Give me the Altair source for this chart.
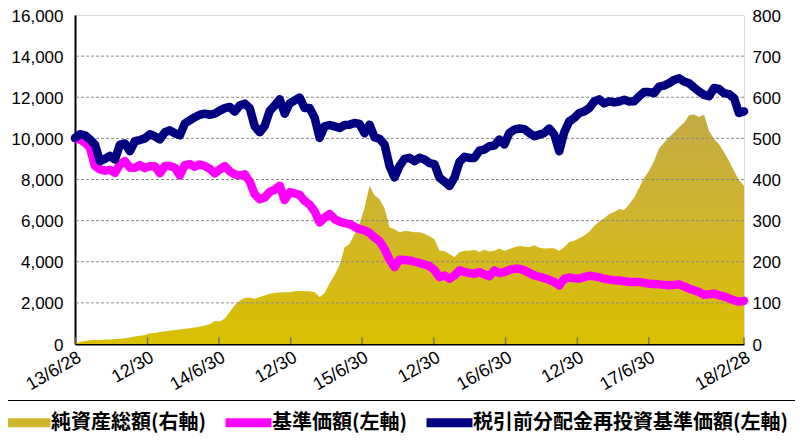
import altair as alt
import pandas as pd

# ---- data ----
N_POINTS = 135
START, END = "2013-06-28", "2018-02-28"

# 税引前分配金再投資基準価額 (left axis, yen)
nav_reinvested = [
    10022, 10200, 10150, 9942, 9700, 8895, 9000, 9150, 8975, 9700,
    9750, 9378, 9861, 9920, 10000, 10200, 10100, 9950, 10300, 10390,
    10250, 10150, 10720, 10880, 11030, 11150, 11200, 11150, 11200, 11350,
    11473, 11530, 11300, 11600, 11690, 11473, 10586, 10300, 10600, 11340,
    11600, 11900, 11200, 11700, 11850, 11988, 11473, 11473, 11000, 10022,
    10586, 10650, 10580, 10506, 10650, 10667, 10747, 10700, 10250, 10667,
    10050, 9980, 9700, 8653, 8100, 8653, 9000, 9055, 8895, 9055,
    8975, 8800, 8750, 8089, 7900, 7686, 8089, 8850, 9100, 9050,
    9050, 9400, 9458, 9620, 9650, 9942, 9700, 10264, 10425, 10480,
    10450, 10264, 10100, 10183, 10264, 10480, 10183, 9378, 10300, 10828,
    10990, 11231, 11312, 11473, 11795, 11900, 11700, 11800, 11750, 11795,
    11875, 11795, 11800, 12050, 12250, 12250, 12200, 12520, 12569, 12682,
    12843, 12923, 12762, 12682, 12472, 12278, 12117, 12050, 12450, 12400,
    12198, 12150, 11956, 11231, 11312,
]

# 基準価額 (left axis, yen)
nav = [
    10000, 9942, 9800, 9539, 8653, 8492, 8430, 8470, 8331, 8733,
    8895, 8572, 8572, 8700, 8550, 8650, 8650, 8300, 8653, 8653,
    8572, 8200, 8700, 8750, 8620, 8733, 8653, 8520, 8300, 8492,
    8653, 8400, 8250, 8200, 8250, 7900, 7283, 7041, 7122, 7400,
    7500, 7700, 7000, 7380, 7320, 7250, 6961, 6780, 6450, 5913,
    6155, 6316, 6074, 5950, 5880, 5830, 5700, 5591, 5530, 5400,
    5180, 5000, 4625, 4100, 3738, 4100, 4080, 4061, 4000, 3940,
    3870, 3790, 3600, 3254, 3335, 3174, 3335, 3577, 3510, 3450,
    3420, 3496, 3380, 3300, 3577, 3450, 3500, 3600, 3657, 3657,
    3580, 3460, 3335, 3270, 3200, 3120, 3013, 2852, 3174, 3230,
    3200, 3180, 3254, 3320, 3290, 3240, 3174, 3130, 3100, 3093,
    3050, 3013, 3013, 3013, 2970, 2932, 2915, 2900, 2875, 2852,
    2875, 2900, 2800, 2691, 2610, 2530, 2400, 2420, 2450, 2369,
    2310, 2220, 2120, 2060, 2100,
]

# 純資産総額 (right axis)
net_assets = [
    0, 5, 7, 9, 10, 10, 11, 11, 12, 13,
    14, 16, 18, 20, 22, 26, 27, 29, 31, 32,
    34, 35, 37, 38, 40, 42, 45, 48, 56, 55,
    62, 78, 94, 106, 112, 113, 110, 114, 118, 122,
    124, 125, 126, 126, 128, 129, 128, 128, 126, 114,
    124, 148, 168, 192, 235, 243, 268, 292, 332, 385,
    362, 352, 330, 284, 279, 272, 275, 274, 272, 272,
    268, 262, 255, 227, 226, 219, 211, 223, 227, 227,
    229, 224, 229, 225, 227, 232, 227, 231, 235, 238,
    237, 236, 240, 234, 232, 233, 233, 226, 235, 248,
    251, 257, 264, 273, 287, 298, 306, 316, 321, 328,
    326, 340, 356, 380, 404, 421, 445, 476, 490, 503,
    515, 527, 538, 556, 558, 552, 558, 518, 499, 486,
    467, 445, 421, 398, 385,
]

tick_dates = ["2013-06-28", "2013-12-30", "2014-06-30", "2014-12-30", "2015-06-30",
              "2015-12-30", "2016-06-30", "2016-12-30", "2017-06-30", "2018-02-28"]
tick_labels = ["13/6/28", "12/30", "14/6/30", "12/30", "15/6/30",
               "12/30", "16/6/30", "12/30", "17/6/30", "18/2/28"]
left_ticks = [0, 2000, 4000, 6000, 8000, 10000, 12000, 14000, 16000]
grid_values = [2000, 4000, 6000, 8000, 10000, 12000, 14000]
right_ticks = [0, 100, 200, 300, 400, 500, 600, 700, 800]

S_AREA = "純資産総額(右軸)"
S_NAV = "基準価額(左軸)"
S_REINV = "税引前分配金再投資基準価額(左軸)"
series_names = [S_AREA, S_NAV, S_REINV]
series_colors = ["#D0B42C", "#FF00FF", "#000080"]

# ---- tables ----
dates = pd.date_range(START, END, periods=N_POINTS)
df = pd.DataFrame({
    "date": dates.strftime("%Y-%m-%dT%H:%M:%S"),
    S_NAV: nav,
    S_REINV: nav_reinvested,
    "assets": net_assets,
})
ticks_df = pd.DataFrame({"date": [d + "T00:00:00" for d in tick_dates], "label": tick_labels})
grid_df = pd.DataFrame({"v": grid_values})

FONT_NUM = "Liberation Sans"
FONT_JP = "Noto Sans CJK JP"

label_map = "{" + ",".join(f"'{d}':'{l}'" for d, l in zip(tick_dates, tick_labels)) + "}"

x_axis = alt.Axis(
    values=[alt.DateTime(year=int(d[:4]), month=int(d[5:7]), date=int(d[8:10])) for d in tick_dates],
    labelExpr=f"{label_map}[timeFormat(datum.value, '%Y-%m-%d')]",
    labelAngle=330, labelAlign="right", labelBaseline="top",
    labelFont=FONT_NUM, labelFontSize=18, labelColor="black", labelPadding=4,
    ticks=False, grid=False, domainColor="black", domainWidth=2, title=None,
)
x_scale = alt.Scale(domain=[alt.DateTime(year=2013, month=6, date=28),
                            alt.DateTime(year=2018, month=2, date=28)])
x_enc = alt.X("date:T", scale=x_scale, axis=x_axis)

left_axis = alt.Axis(
    values=left_ticks, labelExpr="format(datum.value, ',')", orient="left", title=None,
    labelFont=FONT_NUM, labelFontSize=17, labelColor="black", labelPadding=12, labelOffset=1,
    ticks=False, grid=False, domainColor="black", domainWidth=2,
)
left_scale = alt.Scale(domain=[0, 16000], nice=False)

area = alt.Chart(df).mark_area(
    color=alt.Gradient(
        gradient="linear",
        stops=[alt.GradientStop(color="#C4AA44", offset=0),
               alt.GradientStop(color="#D0B52C", offset=0.45),
               alt.GradientStop(color="#DAC000", offset=1)],
        x1=0, x2=0, y1=0, y2=1,
    ),
    interpolate="linear",
).encode(
    x=x_enc,
    y=alt.Y("assets:Q", scale=alt.Scale(domain=[0, 800], nice=False),
            axis=alt.Axis(values=right_ticks, orient="right", title=None,
                          labelFont=FONT_NUM, labelFontSize=17, labelColor="black",
                          labelPadding=8, labelOffset=1, ticks=False, grid=False, domain=False)),
)

grid = alt.Chart(grid_df).mark_rule(color="#8a8a8a", strokeWidth=1, strokeDash=[3, 2]).encode(
    y=alt.Y("v:Q", scale=left_scale, axis=left_axis),
)

tick_rules = alt.Chart(ticks_df).mark_rule(color="#7a7a60", strokeWidth=1.5).encode(
    x=x_enc,
    y=alt.Y(datum=0, type="quantitative", scale=left_scale, axis=left_axis),
    y2=alt.Y2(datum=330),
)

color_enc = alt.Color(
    "series:N",
    scale=alt.Scale(domain=series_names, range=series_colors),
    legend=alt.Legend(
        title=None, orient="none", legendX=-73, legendY=385, direction="horizontal",
        symbolType="M-2,0H2.6", symbolSize=400, symbolStrokeWidth=9,
        labelFont=FONT_JP, labelFontSize=20, labelFontWeight="bold", labelColor="black",
        labelOffset=12, labelLimit=0, columnPadding=0, padding=8,
        strokeColor="black", fillColor="white",
    ),
)

base_line = alt.Chart(df).transform_fold([S_NAV, S_REINV], as_=["series", "value"]).mark_line(
    strokeWidth=8.5, strokeCap="round", strokeJoin="round"
)
line_nav = base_line.transform_filter(alt.datum.series == S_NAV).encode(
    x=x_enc, y=alt.Y("value:Q", scale=left_scale, axis=left_axis), color=color_enc,
)
line_reinv = base_line.transform_filter(alt.datum.series == S_REINV).encode(
    x=x_enc, y=alt.Y("value:Q", scale=left_scale, axis=left_axis), color=color_enc,
)

left_layers = alt.layer(grid, tick_rules, line_nav, line_reinv)

chart = alt.layer(area, left_layers).resolve_scale(y="independent").properties(
    width=669, height=329,
    autosize=alt.AutoSizeParams(type="none"),
    padding={"left": 67, "top": 7, "right": 51, "bottom": 100},
).configure_view(stroke="#808080", strokeWidth=2).configure(background="white")

chart.save("out.html", embed_options={"renderer": "svg", "actions": False})
